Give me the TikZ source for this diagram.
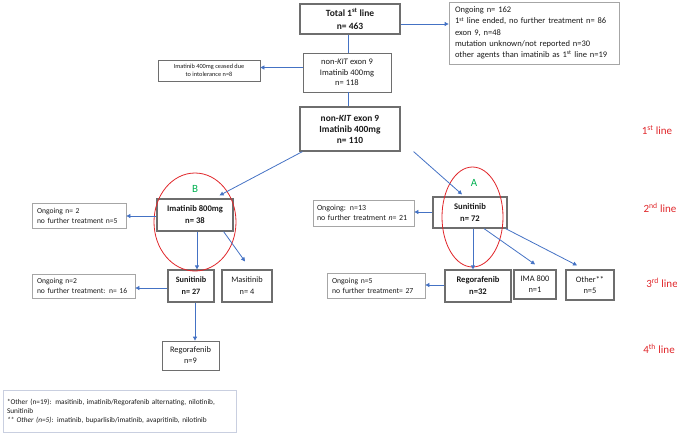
\documentclass[tikz,border=0pt]{standalone}
\usepackage{fontspec}
\setmainfont{Carlito}
\usetikzlibrary{calc,arrows.meta}
\definecolor{arr}{HTML}{4472C4}
\definecolor{bdk}{HTML}{6E6E6E}
\definecolor{blt}{HTML}{A6A6A6}
\definecolor{bft}{HTML}{C9CFE0}
\definecolor{lred}{HTML}{E0262A}
\definecolor{lgreen}{HTML}{00B050}
\definecolor{txt}{HTML}{1A1A1A}
\newcommand{\fsz}[2]{\fontsize{#1}{#2}\selectfont}
\tikzset{
  mainbox/.style={draw=bdk, line width=1.2pt, align=center, inner sep=1pt, text=txt,
    font=\fsz{8.6}{12}\bfseries},
  plainbox/.style={draw=bdk, line width=0.8pt, align=center, inner sep=1pt, text=txt,
    font=\fsz{8.4}{11}},
  leftbox/.style={draw=blt, line width=0.8pt, align=left, inner xsep=5pt, inner ysep=1pt, text=txt,
    font=\fsz{7.6}{10}},
  conn/.style={draw=arr, line width=0.8pt},
  arrw/.style={draw=arr, line width=0.8pt, -{Triangle[length=4pt,width=4pt]}},
  linelab/.style={text=lred, font=\fsz{11}{12}},
  grp/.style={draw=lred, line width=0.8pt},
  grplab/.style={text=lgreen, font=\fsz{11}{12}}
}
\begin{document}
\begin{tikzpicture}[x=1pt,y=-1pt]
\useasboundingbox (0,0) rectangle (677,434);
% first line
\node[mainbox, minimum width=100, minimum height=30, font=\fsz{9.5}{12.5}\bfseries] (total) at (350,19)
  {Total 1\textsuperscript{st} line\\n= 463};
\node[leftbox, text width=158, minimum height=62, inner xsep=6pt, font=\fsz{8.5}{11.3}] (info) at (534,33)
  {Ongoing n= 162\\1\textsuperscript{st} line ended, no further treatment n= 86\\exon 9, n=48\\mutation unknown/not reported n=30\\*other agents than imatinib as 1\textsuperscript{st} line n=19};
\node[plainbox, minimum width=88, minimum height=39, font=\fsz{8.5}{10.5}] (k118) at (347,72.5)
  {non-\textit{KIT} exon 9\\Imatinib 400mg\\n= 118};
\node[plainbox, minimum width=102, minimum height=21, font=\fsz{6.3}{8}] (intol) at (209,70.5)
  {Imatinib 400mg ceased due\\to intolerance n=8};
\node[mainbox, minimum width=100, minimum height=44, font=\fsz{9.4}{11}\bfseries] (k110) at (350,129)
  {non-\textit{KIT} exon 9\\Imatinib 400mg\\n= 110};
% left branch
\node[mainbox, minimum width=76, minimum height=32] (im800) at (195,215)
  {Imatinib 800mg\\n= 38};
\node[leftbox, text width=84, minimum height=25] (ong1) at (79,215.5)
  {Ongoing n= 2\\no further treatment n=5};
\node[mainbox, minimum width=46, minimum height=32, font=\fsz{8.2}{12}\bfseries] (sun27) at (191,286)
  {Sunitinib\\n= 27};
\node[plainbox, line width=1.2pt, minimum width=50, minimum height=32, font=\fsz{8.3}{12}] (mas) at (247,286)
  {Masitinib\\n= 4};
\node[leftbox, text width=93, minimum height=24] (ong2) at (83.5,286)
  {Ongoing n=2\\no further treatment: n= 16};
\node[plainbox, minimum width=57, minimum height=29] (reg9) at (190.5,355.5)
  {Regorafenib\\n=9};
\node[leftbox, draw=bft, text width=225, inner xsep=4pt, minimum height=42, font=\fsz{7.3}{9}] (foot) at (119.5,411)
  {*Other (n=19): masitinib, imatinib/Regorafenib alternating, nilotinib,\\Sunitinib\\\textit{** Other (n=5)}: imatinib, buparlisib/imatinib, avapritinib, nilotinib};
% right branch
\node[mainbox, minimum width=74, minimum height=31] (sun72) at (470,212.5)
  {Sunitinib\\n= 72};
\node[leftbox, text width=93, inner xsep=4pt, minimum height=26, font=\fsz{7.9}{10}] (ong3) at (363.5,213)
  {Ongoing: n=13\\no further treatment \textit{n}= 21};
\node[mainbox, minimum width=66, minimum height=32] (reg32) at (478,286)
  {Regorafenib\\n=32};
\node[plainbox, line width=1.2pt, minimum width=42, minimum height=29] (ima800) at (535,284.5)
  {IMA 800\\n=1};
\node[plainbox, line width=1.2pt, minimum width=48, minimum height=30] (other) at (590,285)
  {Other**\\n=5};
\node[leftbox, text width=88, minimum height=25, font=\fsz{7.7}{10}] (ong4) at (376,285.5)
  {Ongoing n=5\\no further treatment= 27};
% group ellipses
\draw[grp] (195,222) ellipse [x radius=41, y radius=49];
\draw[grp] (472.5,217) ellipse [x radius=30.5, y radius=50];
\node[grplab] (labB) at (195,189) {B};
\node[grplab] (labA) at (474,183) {A};
% line labels
\node[linelab] (l1) at (657,130) {1\textsuperscript{st} line};
\node[linelab] (l2) at (660,208) {2\textsuperscript{nd} line};
\node[linelab] (l3) at (662,283) {3\textsuperscript{rd} line};
\node[linelab] (l4) at (659,349) {4\textsuperscript{th} line};
% connectors
\draw[arrw] ($(total.east)+(0,5)$) -- ($(total.east -| info.west)+(0,5)$);
\draw[conn] (total.south) ++(-2,0) coordinate (t1) -- (t1 |- k118.north);
\draw[conn] (k118.south) ++(1,0) coordinate (t2) -- (t2 |- k110.north);
\draw[arrw] ($(k118.west)+(0,-5)$) -- ($(k118.west -| intol.east)+(0,-5)$);
\draw[arrw] ($(k110.south west)+(3,0)$) -- ($(im800.north east)+(-14,-3)$);
\draw[arrw] ($(k110.south east)+(13,0)$) -- ($(sun72.north)+(-8,-2)$);
\draw[arrw] ($(im800.west)+(0,1)$) -- ($(im800.west -| ong1.east)+(0,1)$);
\draw[arrw] (im800.south) ++(2,0) coordinate (a1) -- (a1 |- sun27.north);
\draw[arrw] ($(im800.south east)+(-10,0)$) -- ($(mas.north)+(-2,-8)$);
\draw[arrw] ($(sun27.west)+(0,2)$) -- ($(sun27.west -| ong2.east)+(0,2)$);
\draw[arrw] (sun27.south) ++(4,0) coordinate (a2) -- (a2 |- reg9.north);
\draw[arrw] ($(sun72.west)+(0,-0.5)$) -- ($(sun72.west -| ong3.east)+(0,-0.5)$);
\draw[arrw] (sun72.south) ++(3,0) coordinate (a3) -- (a3 |- reg32.north);
\draw[arrw] ($(sun72.south)+(14,0)$) -- ($(ima800.north)+(0,-5)$);
\draw[arrw] ($(sun72.south east)+(-2,0)$) -- ($(other.north)+(-13,-4)$);
\draw[arrw] ($(reg32.west)+(0,-1)$) -- ($(reg32.west -| ong4.east)+(0,-1)$);
\end{tikzpicture}
\end{document}
